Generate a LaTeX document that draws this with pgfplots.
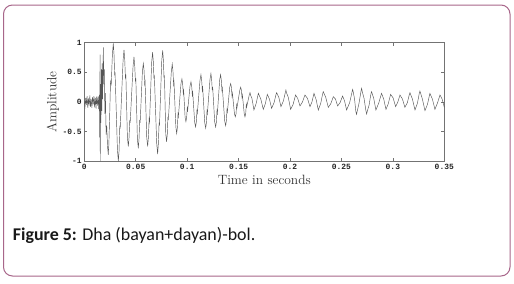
\documentclass[border=0pt]{standalone}
\usepackage{fontspec}
\usepackage{pgfplots}
\pgfplotsset{compat=1.18}
\newfontfamily\capfont{Carlito}
\newfontfamily\tickfont{Liberation Mono}
\definecolor{borderc}{HTML}{A8668A}
\definecolor{wave}{HTML}{555555}
\begin{document}
\begin{tikzpicture}
\useasboundingbox (0,0) rectangle (514bp,-284bp);
\fill[white] (0,0) rectangle (514bp,-284bp);
\draw[borderc, line width=1bp, rounded corners=9bp] (3.5bp,-5bp) rectangle (510bp,-276bp);
\begin{axis}[
  at={(84.3bp,-161.3bp)}, anchor=south west,
  scale only axis, width=360bp, height=118.6bp,
  xmin=0, xmax=0.35, ymin=-1, ymax=1,
  xtick={0,0.05,0.1,0.15,0.2,0.25,0.3,0.35},
  xticklabels={0,0.05,0.1,0.15,0.2,0.25,0.3,0.35},
  ytick={-1,-0.5,0,0.5,1},
  yticklabels={-1,-0.5,0,0.5,1},
  tick align=inside, major tick length=3bp,
  axis line style={black!55, line width=0.5bp},
  tick style={black!55, line width=0.5bp},
  ticklabel style={font=\tickfont\bfseries\fontsize{8}{9}\selectfont, text=black!85},
  xticklabel style={yshift=1bp},
  yticklabel style={xshift=1bp},
  xlabel={Time in seconds},
  ylabel={Amplitude},
  xlabel style={at={(axis description cs:0.5,-0.158)}, anchor=center, font=\fontsize{13.5}{15}\selectfont, text=black!80},
  ylabel style={at={(axis description cs:-0.087,0.5)}, anchor=center, font=\fontsize{13.5}{15}\selectfont, text=black!80},
  clip=true,
]
\addplot[wave, line width=0.45bp] coordinates {
(0,0.02) (0.0007,-0.08) (0.0014,0.07) (0.002,-0.05) (0.0027,0.1) (0.0034,-0.1) (0.004,0.06) (0.0047,-0.06) (0.0054,0.11) (0.006,-0.08) (0.0067,0.05) (0.0074,-0.1) (0.008,0.08) (0.0087,-0.04) (0.0094,0.1) (0.01,-0.09) (0.0107,0.07) (0.0114,-0.11) (0.012,0.09) (0.0127,-0.06) (0.0134,0.1) (0.014,-0.12) (0.0146,0.12)
(0.0150,-0.6) (0.0153,0.8) (0.0155,-1.0) (0.0158,0.3) (0.0162,-0.35) (0.0166,0.55) (0.0170,-0.15) (0.0174,0.65) (0.0178,0.05) (0.0185,0.92) (0.0190,0.3) (0.0195,0.55) (0.0200,-0.2) (0.0205,0.15) (0.0212,-0.55) (0.0218,-0.4) (0.0226,-0.75) (0.0233,-0.89) (0.0239,-0.7)
(0.0247,-0.2) (0.0255,0.35) (0.0262,0.3)
(0.0273,0.8) (0.0282,0.99) (0.0289,0.8) (0.0295,0.45) (0.0299,0.5) (0.0322,-0.8) (0.0331,-1.0) (0.0338,-0.82) (0.0345,-0.4) (0.0349,-0.45)
(0.0377,0.7) (0.0386,0.88) (0.0393,0.72) (0.0400,0.4) (0.0404,0.46) (0.0419,-0.6) (0.0428,-0.75) (0.0435,-0.6) (0.0442,-0.3) (0.0446,-0.35)
(0.0474,0.6) (0.0483,0.76) (0.0490,0.62) (0.0497,0.35) (0.0501,0.4) (0.0516,-0.62) (0.0525,-0.78) (0.0532,-0.62) (0.0539,-0.3) (0.0543,-0.35)
(0.0565,0.52) (0.0574,0.65) (0.0581,0.53) (0.0587,0.3) (0.0591,0.34) (0.0607,-0.6) (0.0616,-0.75) (0.0623,-0.6) (0.0630,-0.3) (0.0634,-0.34)
(0.0655,0.67) (0.0664,0.84) (0.0671,0.68) (0.0677,0.4) (0.0681,0.45) (0.0704,-0.7) (0.0713,-0.88) (0.0720,-0.7) (0.0727,-0.35) (0.0731,-0.4)
(0.0753,0.7) (0.0762,0.87) (0.0769,0.7) (0.0775,0.4) (0.0779,0.45) (0.0792,-0.54) (0.0800,-0.67) (0.0807,-0.54) (0.0813,-0.25) (0.0817,-0.3)
(0.0846,0.51) (0.0855,0.64) (0.0862,0.52) (0.0868,0.3) (0.0872,0.34) (0.0890,-0.42) (0.0898,-0.53) (0.0905,-0.43) (0.0911,-0.2) (0.0915,-0.24)
(0.0940,0.31) (0.0949,0.39) (0.0956,0.31) (0.0962,0.15) (0.0966,0.19) (0.0980,-0.26) (0.0988,-0.33) (0.0995,-0.26) (0.1001,-0.1) (0.1005,-0.14)
(0.1028,0.27) (0.1037,0.34) (0.1044,0.27) (0.1050,0.12) (0.1054,0.16) (0.1073,-0.34) (0.1082,-0.42) (0.1089,-0.34) (0.1095,-0.15) (0.1099,-0.19)
(0.1125,0.37) (0.1134,0.46) (0.1141,0.37) (0.1147,0.2) (0.1151,0.24) (0.1171,-0.35) (0.1180,-0.44) (0.1187,-0.35) (0.1193,-0.15) (0.1197,-0.19)
(0.1222,0.38) (0.1231,0.48) (0.1238,0.38) (0.1244,0.2) (0.1248,0.25) (0.1268,-0.34) (0.1277,-0.42) (0.1284,-0.34) (0.1290,-0.15) (0.1294,-0.19)
(0.1316,0.37) (0.1325,0.46) (0.1332,0.37) (0.1338,0.2) (0.1342,0.24) (0.1365,-0.32) (0.1374,-0.40) (0.1381,-0.32) (0.1387,-0.13) (0.1391,-0.17)
(0.1414,0.25) (0.1423,0.31) (0.1430,0.25) (0.1436,0.1) (0.1440,0.15) (0.1460,-0.2) (0.1468,-0.25) (0.1475,-0.2) (0.1481,-0.05) (0.1485,-0.09)
(0.1512,0.2) (0.1520,0.25) (0.1527,0.2) (0.1533,0.08) (0.1537,0.12) (0.1555,-0.2) (0.1562,-0.25) (0.1569,-0.2) (0.1575,-0.04) (0.1579,-0.08)
(0.1604,0.12) (0.1611,0.157) (0.1618,0.11) (0.1630,0.06) (0.1649,-0.135) (0.1670,-0.03) (0.1692,0.146) (0.1716,0.05) (0.1740,-0.124) (0.1760,-0.03)
(0.1779,0.129) (0.1800,0.05) (0.1821,-0.107) (0.1845,-0.01) (0.1863,0.12) (0.1870,0.157) (0.1891,0.08) (0.1912,-0.079) (0.1936,0.02)
(0.1953,0.15) (0.1960,0.202) (0.1967,0.15) (0.1983,0.08) (0.2006,-0.124) (0.2030,-0.04) (0.2054,0.118) (0.2075,0.06) (0.2097,-0.067) (0.2121,0.0)
(0.2145,0.118) (0.2170,0.06) (0.2194,-0.079) (0.2213,0.0) (0.2233,0.146) (0.2254,0.04) (0.2275,-0.135) (0.2299,-0.02)
(0.2316,0.13) (0.2323,0.174) (0.2347,0.08) (0.2372,-0.090) (0.2396,-0.03) (0.2421,0.090) (0.2442,0.05) (0.2463,-0.067) (0.2487,-0.01)
(0.2511,0.101) (0.2530,0.02) (0.2550,-0.135) (0.2580,-0.01) (0.2602,0.16) (0.2609,0.213) (0.2616,0.16) (0.2628,0.04) (0.2640,-0.16) (0.2647,-0.208) (0.2654,-0.15) (0.2671,-0.02)
(0.2689,0.17) (0.2696,0.230) (0.2703,0.17) (0.2720,0.06) (0.2738,-0.15) (0.2745,-0.202) (0.2752,-0.15) (0.2769,-0.05) (0.2786,0.13) (0.2793,0.174) (0.2814,0.06) (0.2835,-0.135) (0.2862,-0.02)
(0.2890,0.146) (0.2911,0.05) (0.2933,-0.124) (0.2955,-0.03) (0.2978,0.129) (0.3002,0.07) (0.3027,-0.079) (0.3048,0.0)
(0.3069,0.118) (0.3093,0.05) (0.3117,-0.090) (0.3141,-0.01) (0.3159,0.12) (0.3166,0.157) (0.3190,0.05) (0.3215,-0.135) (0.3239,-0.02)
(0.3256,0.14) (0.3263,0.185) (0.3287,0.05) (0.3312,-0.146) (0.3336,-0.04) (0.3360,0.146) (0.3384,0.05) (0.3409,-0.124) (0.3433,-0.02)
(0.3458,0.118) (0.3479,0.05) (0.3500,-0.090)
};
\end{axis}
\node[anchor=base west, inner sep=0pt, font=\capfont\fontsize{18}{20}\selectfont, text=black!90] at (12.7bp,-240.7bp) {\textbf{Figure 5:} Dha (bayan+dayan)-bol.};
\end{tikzpicture}
\end{document}
